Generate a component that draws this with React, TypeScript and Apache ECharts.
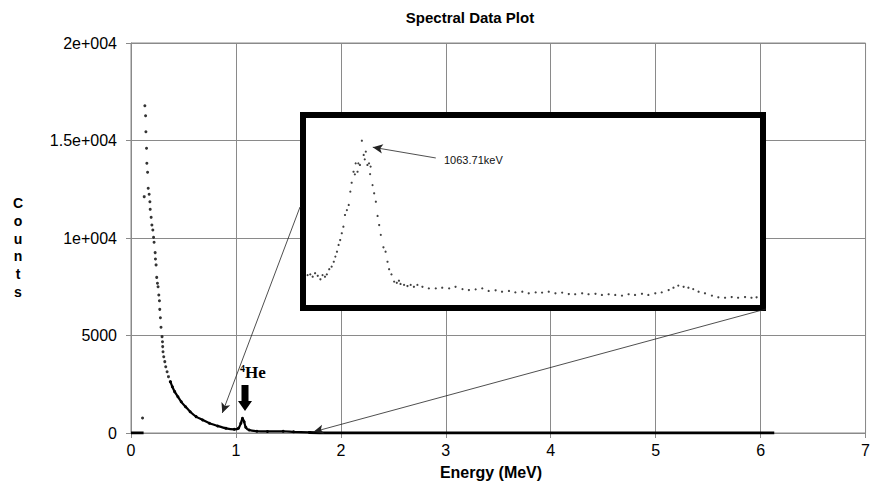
import React, { useEffect, useRef } from "react";
import * as echarts from "echarts";

// ---- Main spectrum (Energy MeV, Counts) ----
const steepEnergy = [0.11, 0.126, 0.132, 0.139, 0.142, 0.148, 0.151, 0.158, 0.164, 0.173, 0.18, 0.183, 0.192, 0.199, 0.208, 0.215, 0.22, 0.23, 0.233, 0.239, 0.245, 0.252, 0.258, 0.265, 0.271, 0.274, 0.28, 0.286, 0.296, 0.3, 0.302, 0.305, 0.312, 0.322, 0.331, 0.344, 0.357, 0.375];
const steepCounts = [770, 12120, 16780, 16270, 15450, 14600, 13830, 13370, 12550, 12240, 11860, 11470, 11060, 10670, 10410, 10040, 9780, 9250, 8920, 8620, 7980, 7680, 7500, 7080, 6780, 6340, 5910, 5420, 4940, 4680, 4430, 4170, 3910, 3660, 3400, 3140, 2890, 2630];

const tailEnergy = [0.375, 0.394, 0.416, 0.447, 0.479, 0.52, 0.564, 0.62, 0.683, 0.747, 0.826, 0.905, 0.984, 1.024, 1.047, 1.062, 1.078, 1.094, 1.126, 1.2, 1.3, 1.45, 1.55, 1.7];
const tailCounts = [2630, 2370, 2120, 1860, 1600, 1350, 1090, 840, 670, 500, 360, 240, 190, 240, 500, 750, 580, 290, 150, 90, 80, 90, 60, 30];

const baseEnergy = [1.7, 1.8, 6.13];
const baseCounts = [30, 0, 0];
const startEnergy = [0, 0.12];
const startCounts = [0, 0];

// ---- Inset (zoom on the 1063.71 keV peak) ----
const insetEnergy = [963, 968, 972.5, 977, 982, 987, 991, 995.5, 999, 1003.5, 1008, 1012, 1015, 1018, 1021, 1024, 1027, 1030, 1033, 1036.6, 1040, 1043, 1045.5, 1049, 1051.5, 1053, 1056.5, 1058, 1061, 1064.6, 1068, 1070, 1072, 1075, 1078, 1081, 1080, 1084.6, 1087.6, 1090.8, 1094, 1097, 1100, 1105, 1109, 1112.6, 1115.6, 1120, 1125, 1130, 1134, 1137, 1143.6, 1150, 1156, 1162, 1168.6, 1178, 1190, 1203, 1215, 1228, 1240, 1253, 1265, 1277.6, 1290, 1302, 1315, 1327, 1340, 1352, 1365, 1377, 1390, 1402, 1414.5, 1427, 1439.6, 1452, 1464, 1477, 1489, 1502, 1514, 1526.6, 1539, 1551.6, 1564, 1576, 1589, 1601, 1614, 1626, 1639, 1648, 1657, 1667, 1676, 1685, 1695, 1707, 1720, 1732, 1744.6, 1757, 1769, 1782, 1794, 1803.6];
const insetCounts = [128, 131, 121, 136, 125, 110, 128, 121, 131, 153, 164, 185, 207, 228, 257, 278, 307, 335, 385, 406, 428, 485, 523, 570, 559, 606, 570, 606, 599, 703, 642, 623, 656, 599, 606, 592, 560, 513, 478, 442, 381, 342, 300, 247, 228, 185, 153, 131, 100, 95, 104, 90, 86, 81, 86, 78, 86, 78, 71, 71, 74, 71, 78, 68, 64, 67, 71, 60, 63, 57, 60, 54, 57, 50, 54, 53, 57, 50, 53, 47, 46, 50, 46, 48, 43, 46, 43, 40, 46, 43, 48, 43, 50, 54, 64, 74, 83, 78, 74, 68, 57, 50, 40, 33, 31, 34, 31, 34, 31, 33];

const yTickLabels: Record<number, string> = { 0: "0", 5000: "5000", 10000: "1e+004", 15000: "1.5e+004", 20000: "2e+004" };

const zip = (a: number[], b: number[]) => a.map((v, i) => [v, b[i]]);

const NARROW = "'Liberation Sans Narrow', 'Liberation Sans', Arial, sans-serif";
const SANS = "'Liberation Sans', Arial, sans-serif";
const SERIF = "'Liberation Serif', 'Times New Roman', serif";

export default function App() {
  const ref = useRef<HTMLDivElement>(null);
  useEffect(() => {
    if (!ref.current) return;
    const chart = echarts.init(ref.current, undefined, { renderer: "svg" });
    chart.setOption({
      animation: false,
      backgroundColor: "#fff",
      grid: [
        { left: 131, right: 2, top: 43, bottom: 50, show: true, borderColor: "#8a8a8a", borderWidth: 1, z: 0 },
        { left: 306, top: 118, width: 454, height: 187, show: false },
      ],
      xAxis: [
        {
          gridIndex: 0, type: "value", min: 0, max: 7, interval: 1,
          axisLine: { show: true, lineStyle: { color: "#8a8a8a", width: 1 } },
          axisTick: { show: true, inside: false, length: 5, lineStyle: { color: "#8a8a8a" } },
          axisLabel: { color: "#000", fontFamily: NARROW, fontSize: 16, margin: 9 },
          splitLine: { show: true, lineStyle: { color: "#8a8a8a", width: 1 } },
        },
        { gridIndex: 1, type: "value", min: 960, max: 1810, show: false, splitLine: { show: false } },
      ],
      yAxis: [
        {
          gridIndex: 0, type: "value", min: 0, max: 20000, interval: 5000,
          axisLine: { show: true, lineStyle: { color: "#8a8a8a", width: 1 } },
          axisTick: { show: true, inside: false, length: 5, lineStyle: { color: "#8a8a8a" } },
          axisLabel: { color: "#000", fontFamily: NARROW, fontSize: 16, margin: 14, formatter: (v: number) => yTickLabels[v] ?? String(v) },
          splitLine: { show: true, lineStyle: { color: "#8a8a8a", width: 1 } },
        },
        { gridIndex: 1, type: "value", min: 0, max: 800, show: false, splitLine: { show: false } },
      ],
      series: [
        {
          type: "line", xAxisIndex: 0, yAxisIndex: 0, data: zip(baseEnergy, baseCounts),
          showSymbol: false, lineStyle: { color: "#000", width: 3 }, z: 3,
        },
        {
          type: "line", xAxisIndex: 0, yAxisIndex: 0, data: zip(startEnergy, startCounts),
          showSymbol: false, lineStyle: { color: "#000", width: 3 }, z: 3,
        },
        {
          type: "line", xAxisIndex: 0, yAxisIndex: 0, data: zip(tailEnergy, tailCounts),
          smooth: 0.25, showSymbol: true, symbol: "circle", symbolSize: 3,
          itemStyle: { color: "#000" }, lineStyle: { color: "#000", width: 2.2 }, z: 3,
          markLine: {
            silent: true, symbol: ["none", "arrow"], symbolSize: [7, 10], animation: false,
            label: { show: false },
            lineStyle: { color: "#222", width: 0.8, type: "solid" },
            data: [
              [{ x: 300, y: 207 }, { coord: [0.87, 1025] }],
              [{ x: 766, y: 309 }, { coord: [1.74, 60] }],
            ],
          },
        },
        {
          type: "scatter", xAxisIndex: 0, yAxisIndex: 0, data: zip(steepEnergy, steepCounts),
          symbol: "circle", symbolSize: 3, itemStyle: { color: "#000" }, z: 3,
        },
        {
          type: "scatter", xAxisIndex: 1, yAxisIndex: 1, data: zip(insetEnergy, insetCounts),
          symbol: "circle", symbolSize: 2.2, itemStyle: { color: "#111" }, z: 10,
          markLine: {
            silent: true, symbol: ["none", "arrow"], symbolSize: [7, 10], animation: false,
            label: { show: false },
            lineStyle: { color: "#222", width: 0.8, type: "solid" },
            data: [[{ coord: [1203, 629] }, { coord: [1085, 675] }]],
          },
        },
      ],
      graphic: [
        {
          type: "rect", z: 5, shape: { x: 303, y: 115, width: 460, height: 193 },
          style: { fill: "#fff", stroke: "#000", lineWidth: 6 },
        },
        {
          type: "text", z: 12, x: 444, y: 160,
          style: { text: "1063.71keV", fill: "#111", font: `11px ${SANS}`, textAlign: "left", textVerticalAlign: "middle" },
        },
        {
          type: "text", x: 470, y: 17,
          style: { text: "Spectral Data Plot", fill: "#000", font: `bold 15px ${NARROW}`, textAlign: "center", textVerticalAlign: "middle" },
        },
        {
          type: "text", x: 491, y: 472,
          style: { text: "Energy (MeV)", fill: "#000", font: `bold 16px ${NARROW}`, textAlign: "center", textVerticalAlign: "middle" },
        },
        {
          type: "text", x: 18, y: 194,
          style: { text: "C\no\nu\nn\nt\ns", fill: "#000", font: `bold 14px ${SANS}`, lineHeight: 17.8, textAlign: "center", textVerticalAlign: "top" },
        },
        {
          type: "text", x: 240, y: 363,
          style: { text: "4", fill: "#000", font: `bold 10px ${SERIF}`, textAlign: "left", textVerticalAlign: "top" },
        },
        {
          type: "text", x: 245, y: 364,
          style: { text: "He", fill: "#000", font: `bold 17px ${SERIF}`, textAlign: "left", textVerticalAlign: "top" },
        },
        {
          type: "polygon", z: 6,
          shape: { points: [[241.5, 385], [248.5, 385], [248.5, 401], [252, 401], [245, 411], [238, 401], [241.5, 401]] },
          style: { fill: "#000" },
        },
      ],
    });
    return () => chart.dispose();
  }, []);
  return <div ref={ref} style={{ position: "fixed", left: 0, top: 0, width: 873, height: 483 }} />;
}
